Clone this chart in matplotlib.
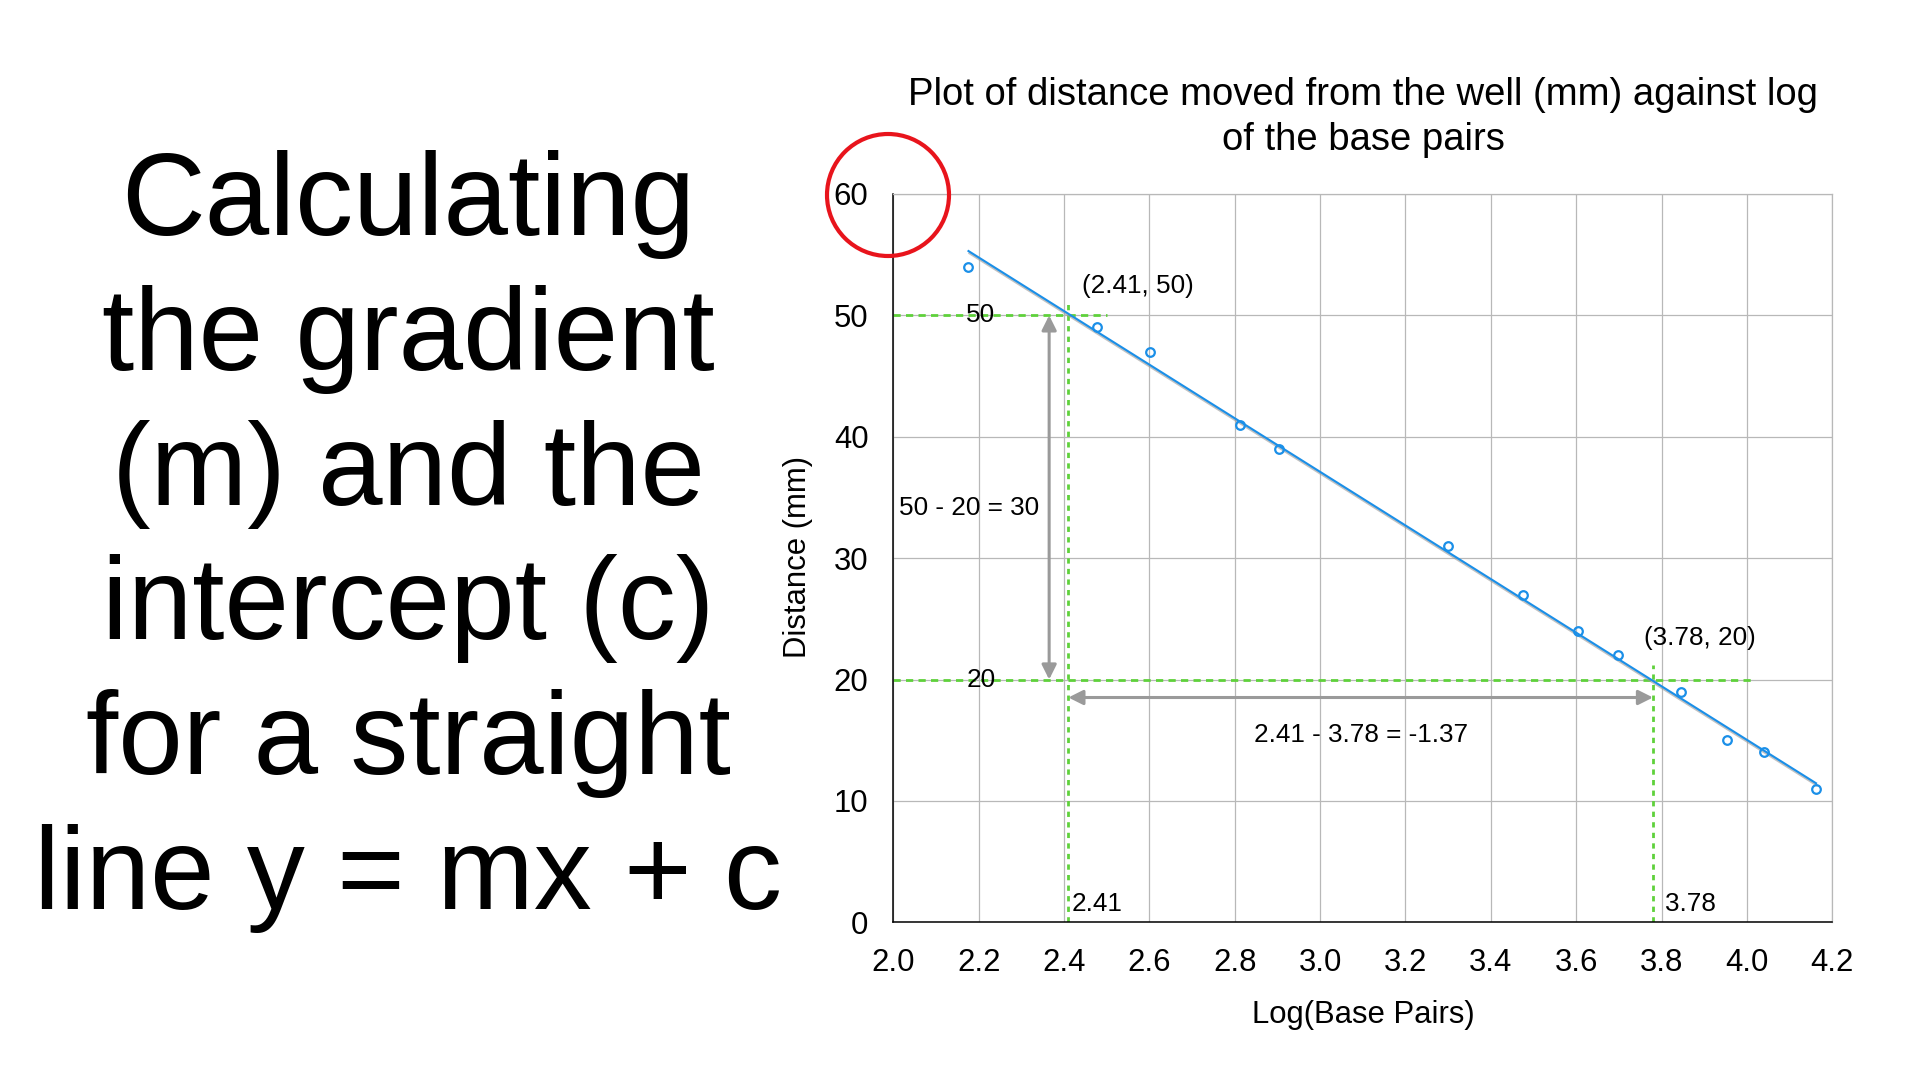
import numpy as np
import matplotlib
matplotlib.use("Agg")
import matplotlib.pyplot as plt
import matplotlib.patheffects as pe
from matplotlib.patches import Circle

plt.rcParams['font.family'] = ['Liberation Sans', 'DejaVu Sans']

# data: log10 of base pairs vs distance moved (mm)
log_bp = [2.176, 2.477, 2.602, 2.812, 2.904, 3.299, 3.475, 3.605, 3.699, 3.845, 3.953, 4.041, 4.162]
distance = [54, 49, 47, 41, 39, 31, 27, 24, 22, 19, 15, 14, 11]

x_ticks = [2.0, 2.2, 2.4, 2.6, 2.8, 3.0, 3.2, 3.4, 3.6, 3.8, 4.0, 4.2]
y_ticks = [0, 10, 20, 30, 40, 50, 60]

# the two points
p1 = (2.41, 50)
p2 = (3.78, 20)

side_lines = ["Calculating", "the gradient", "(m) and the",
              "intercept (c)", "for a straight", "line y = mx + c"]
title_lines = ["Plot of distance moved from the well (mm) against log",
               "of the base pairs"]

blue = '#1a8fe8'
green = '#5fd13b'
arrow_gray = '#9a9a9a'

fig = plt.figure(figsize=(19.2, 10.8), dpi=100)
ax = fig.add_axes([0.4653, 0.146, 0.489, 0.6744])

ax.set_xlim(x_ticks[0], x_ticks[-1])
ax.set_ylim(y_ticks[0], y_ticks[-1])
ax.set_xticks(x_ticks)
ax.set_xticklabels([f"{t:.1f}" for t in x_ticks])
ax.set_yticks(y_ticks)
ax.tick_params(length=0, labelsize=22.4)
ax.tick_params(axis='y', pad=18)
ax.tick_params(axis='x', pad=18.5)
ax.grid(True, color='#b8b8b8', lw=0.9)
ax.set_axisbelow(True)
for s in ['top', 'right']:
    ax.spines[s].set_color('#b8b8b8')
    ax.spines[s].set_linewidth(0.9)
for s in ['left', 'bottom']:
    ax.spines[s].set_linewidth(1.1)

# linear trend line
m, c = np.polyfit(log_bp, distance, 1)
xs = np.array([min(log_bp), max(log_bp)])
ax.plot(xs, m * xs + c, color=blue, lw=1.5, zorder=3,
        path_effects=[pe.SimpleLineShadow(offset=(0.6, -1.6), shadow_color='#999999', alpha=0.6),
                      pe.Normal()])
ax.plot(log_bp, distance, 'o', ms=6.2, mfc='none', mec=blue, mew=1.6, zorder=4)

# green guide lines
hdash = dict(color=green, lw=2.0, dashes=(2.6, 1.9), zorder=2)
vdash = dict(color=green, lw=2.0, dashes=(1.9, 1.9), zorder=2)
ax.plot([x_ticks[0], p1[0] + 0.09], [p1[1], p1[1]], **hdash)
ax.plot([p1[0], p1[0]], [0, p1[1] + 1], **vdash)
ax.plot([x_ticks[0], p2[0] + 0.235], [p2[1], p2[1]], **hdash)
ax.plot([p2[0], p2[0]], [0, p2[1] + 1.2], **vdash)

# double headed arrows for rise and run
arr = dict(arrowstyle='<|-|>', color=arrow_gray, lw=2.2, mutation_scale=22,
           shrinkA=0, shrinkB=0)
ax.annotate('', xy=(p1[0] - 0.045, p2[1]), xytext=(p1[0] - 0.045, p1[1]), arrowprops=arr)
ax.annotate('', xy=(p2[0], p2[1] - 1.48), xytext=(p1[0], p2[1] - 1.48), arrowprops=arr)

fs = 18.8
ax.text(2.205, p1[1], f"{p1[1]}", fontsize=fs, ha='center', va='center')
ax.text(2.205, p2[1], f"{p2[1]}", fontsize=fs, ha='center', va='center')
ax.text(2.574, 52.4, f"({p1[0]}, {p1[1]})", fontsize=fs, ha='center', va='center')
ax.text(3.89, 23.4, f"({p2[0]}, {p2[1]})", fontsize=fs, ha='center', va='center')
ax.text(2.178, 34.15, f"{p1[1]} - {p2[1]} = {p1[1] - p2[1]}", fontsize=fs, ha='center', va='center')
ax.text(3.097, 15.45, f"{p1[0]} - {p2[0]} = {p1[0] - p2[0]:.2f}", fontsize=fs, ha='center', va='center')
ax.text(2.478, 1.5, f"{p1[0]}", fontsize=fs, ha='center', va='center')
ax.text(3.867, 1.5, f"{p2[0]}", fontsize=fs, ha='center', va='center')

ax.set_xlabel("Log(Base Pairs)", fontsize=22.4, va='center')
ax.xaxis.set_label_coords(0.5, -0.1273)
ax.set_ylabel("Distance (mm)", fontsize=22.4, va='center', ha='center')
ax.yaxis.set_label_coords(-0.1012, 0.501)

for i, line in enumerate(title_lines):
    fig.text(0.7099, 0.9028 - i * 0.0417, line, fontsize=27.5, ha='center', va='baseline')

for i, line in enumerate(side_lines):
    fig.text(0.2125, 0.7824 - i * 0.1248, line, fontsize=83.5, ha='center', va='baseline')

# red ring around the top y value
ring = Circle((8.88, 8.85), 0.61, transform=fig.dpi_scale_trans, fill=False,
              edgecolor='#e8141c', lw=3.0, zorder=10)
fig.patches.append(ring)

fig.savefig("out.png", dpi=100)
